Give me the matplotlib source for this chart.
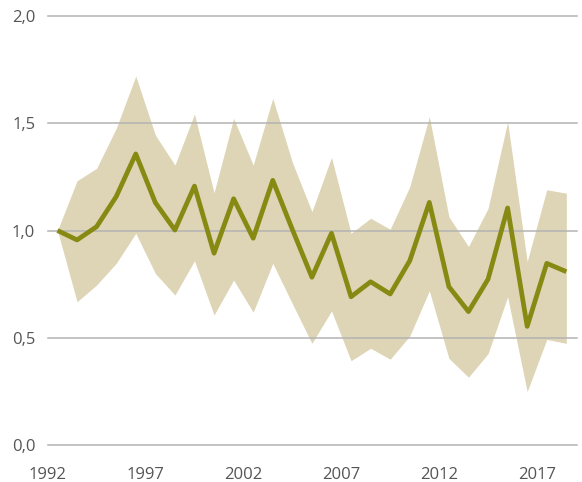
import matplotlib
matplotlib.use("Agg")
import matplotlib.pyplot as plt
from matplotlib.ticker import FuncFormatter
import numpy as np

plt.rcParams['font.family'] = ['Open Sans', 'DejaVu Sans']

# one value per year, plotted at mid-year
years = np.arange(1992, 2019)
index = [1.00, 0.956, 1.018, 1.158, 1.357, 1.13, 1.002, 1.207, 0.894, 1.148,
         0.964, 1.234, 1.005, 0.782, 0.987, 0.691, 0.761, 0.704, 0.859, 1.131,
         0.738, 0.622, 0.773, 1.105, 0.553, 0.847, 0.808]
upper = [1.00, 1.232, 1.29, 1.476, 1.72, 1.445, 1.305, 1.543, 1.176, 1.523,
         1.305, 1.616, 1.318, 1.088, 1.341, 0.987, 1.057, 1.006, 1.204, 1.531,
         1.064, 0.925, 1.103, 1.507, 0.855, 1.19, 1.174]
lower = [1.00, 0.668, 0.746, 0.847, 0.987, 0.80, 0.699, 0.859, 0.606, 0.769,
         0.619, 0.847, 0.659, 0.474, 0.625, 0.393, 0.451, 0.40, 0.508, 0.719,
         0.404, 0.316, 0.426, 0.691, 0.249, 0.492, 0.474]
tick_years = [1992, 1997, 2002, 2007, 2012, 2017]

x = years + 0.5

fig = plt.figure(figsize=(5.82, 4.82), dpi=100)
ax = fig.add_axes([47.7 / 582, 1 - 445 / 482, (576.7 - 47.7) / 582, (445 - 16) / 482])

ax.fill_between(x, lower, upper, color='#ddd5b5', linewidth=0, zorder=1)
ax.plot(x, index, color='#878a12', linewidth=3.4, solid_joinstyle='round',
        solid_capstyle='butt', zorder=3)

ax.set_xlim(1992.1, 2019.03)
ax.set_ylim(0, 2.0)
ax.set_yticks([0, 0.5, 1.0, 1.5, 2.0])
ax.set_xticks(tick_years)
ax.yaxis.set_major_formatter(FuncFormatter(lambda v, p: f"{v:.1f}".replace('.', ',')))

ax.set_axisbelow('line')
ax.yaxis.grid(True, color='#b3b3b3', linewidth=1.1, zorder=2)
for s in ax.spines.values():
    s.set_visible(False)
ax.tick_params(axis='both', length=0, labelsize=12, labelcolor='#555555')
ax.tick_params(axis='y', pad=9)
ax.tick_params(axis='x', pad=16)
for gl in ax.get_ygridlines():
    gl.set_clip_on(False)

fig.savefig('out.png', dpi=100)
